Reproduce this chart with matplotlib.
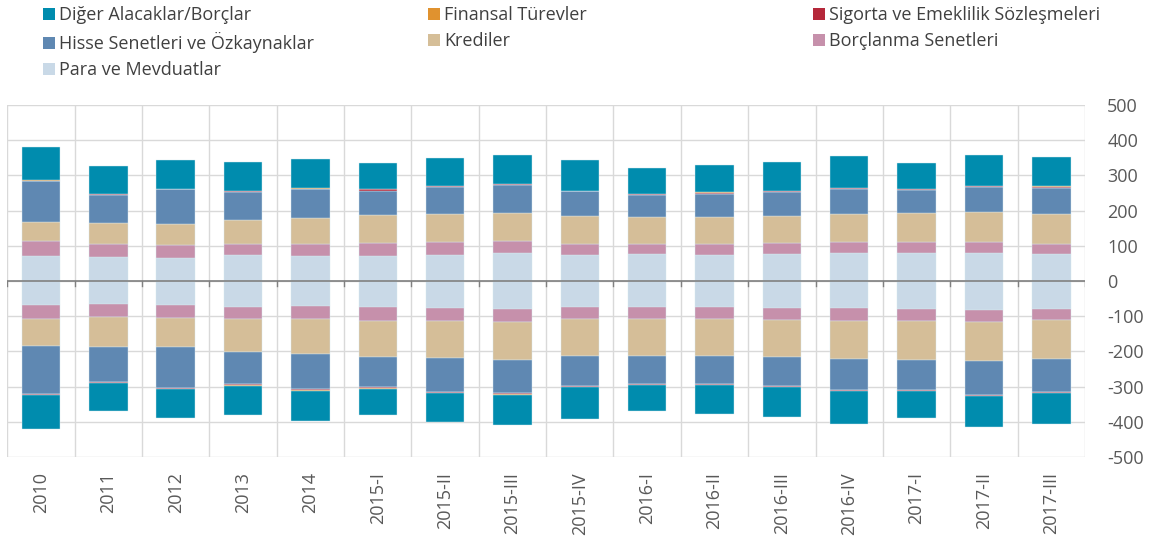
import numpy as np
import matplotlib
matplotlib.use("Agg")
import matplotlib.pyplot as plt
from matplotlib.patches import Patch
from matplotlib.ticker import FuncFormatter

plt.rcParams["font.family"] = ["Open Sans", "DejaVu Sans"]
plt.rcParams["axes.unicode_minus"] = False

periods = ["2010", "2011", "2012", "2013", "2014", "2015-I", "2015-II", "2015-III",
           "2015-IV", "2016-I", "2016-II", "2016-III", "2016-IV", "2017-I", "2017-II", "2017-III"]

# stacked from zero outwards: para, borclanma, krediler, hisse, sigorta, turev, diger
series_names = ["Para ve Mevduatlar", "Borçlanma Senetleri", "Krediler",
                "Hisse Senetleri ve Özkaynaklar", "Sigorta ve Emeklilik Sözleşmeleri",
                "Finansal Türevler", "Diğer Alacaklar/Borçlar"]
colors = ["#C9D9E7", "#C690AB", "#D5BE98", "#5F88B2", "#B5283A", "#E0922F", "#008CAE"]

# assets (positive side)
pos_para = [70, 68, 66, 73, 71, 72, 75, 80, 74, 76, 75, 76, 80, 80, 80, 78]
pos_borc = [43, 37, 36, 32, 34, 37, 35, 34, 32, 29, 30, 31, 30, 31, 30, 28]
pos_kredi = [55, 60, 61, 69, 73, 78, 79, 80, 79, 78, 78, 79, 81, 82, 85, 83]
pos_hisse = [116, 79, 97, 79, 82, 70, 78, 78, 70, 61, 65, 68, 71, 65, 72, 76]
pos_sigorta = [1.5, 2.5, 2, 2.5, 2.5, 3, 2.5, 2.5, 1.5, 2.5, 2.5, 2.5, 3, 3, 2.5, 3]
pos_turev = [0.5, 0.5, 0.5, 0.5, 0.5, 1, 0.5, 0.5, 0.5, 0.5, 1, 0.5, 0.5, 1, 0.5, 1]
pos_diger = [94, 79, 80, 82, 84, 73, 80, 84, 87, 75, 78, 82, 91, 72, 87, 82]

# liabilities (negative side)
neg_para = [68, 66, 67, 74, 72, 74, 77, 80, 74, 74, 74, 77, 78, 80, 81, 79]
neg_borc = [41, 37, 38, 35, 37, 40, 38, 36, 35, 35, 35, 34, 35, 34, 35, 33]
neg_kredi = [77, 85, 83, 94, 97, 101, 104, 108, 104, 103, 104, 105, 110, 111, 111, 109]
neg_hisse = [135, 98, 115, 90, 102, 87, 97, 95, 86, 80, 79, 82, 87, 84, 96, 95]
neg_sigorta = [3, 2.5, 2.5, 3, 3, 3, 3, 2.5, 2.5, 3, 3, 3, 3, 2.5, 3, 3]
neg_turev = [0.5, 1, 1, 1, 0.5, 0.5, 0.5, 1, 1, 0.5, 1, 0.5, 0.5, 0.5, 1, 0.5]
neg_diger = [95, 80, 82, 84, 85, 76, 82, 86, 90, 75, 81, 85, 93, 78, 89, 88]

pos = [pos_para, pos_borc, pos_kredi, pos_hisse, pos_sigorta, pos_turev, pos_diger]
neg = [neg_para, neg_borc, neg_kredi, neg_hisse, neg_sigorta, neg_turev, neg_diger]

fig = plt.figure(figsize=(11.55, 5.43), dpi=100)
ax = fig.add_axes([0.0063, 0.1584, 0.9331, 0.6482])

x = np.arange(len(periods))
width = 0.57
bottom_p = np.zeros(len(periods))
bottom_n = np.zeros(len(periods))
for vals_p, vals_n, c in zip(pos, neg, colors):
    vp = np.array(vals_p, dtype=float)
    vn = -np.array(vals_n, dtype=float)
    ax.bar(x, vp, width, bottom=bottom_p, color=c, edgecolor="#d6e8f0", linewidth=0.3, zorder=3)
    ax.bar(x, vn, width, bottom=bottom_n, color=c, edgecolor="#d6e8f0", linewidth=0.3, zorder=3)
    bottom_p += vp
    bottom_n += vn

ax.set_xlim(-0.5, len(periods) - 0.5)
ax.set_ylim(-500, 500)
ax.set_yticks(np.arange(-500, 501, 100))
ax.yaxis.set_major_formatter(FuncFormatter(lambda v, p: f"{int(v)}"))
ax.yaxis.tick_right()
ax.tick_params(axis="y", length=0, pad=16, labelsize=13, labelcolor="#595959")

ax.set_xticks(x)
ax.set_xticklabels(periods, rotation=90)
ax.tick_params(axis="x", length=0, pad=11, labelsize=13, labelcolor="#595959")

for s in ax.spines.values():
    s.set_visible(False)

# grid: horizontal every 100, vertical at category boundaries
for yv in np.arange(-500, 501, 100):
    ax.axhline(yv, color="#D9D9D9", linewidth=1, zorder=1)
for b in np.arange(-0.5, len(periods), 1):
    ax.axvline(b, color="#D9D9D9", linewidth=1, zorder=1)
    ax.plot([b, b], [0, -15], color="#808080", linewidth=1, zorder=4)
ax.axhline(0, color="#808080", linewidth=1.2, zorder=4)

# legend in three columns, placed like the original
legend_cols = [
    [6, 3, 0],
    [5, 2],
    [4, 1],
]
col_x = [0.0307, 0.364, 0.6975]
for cols, cx in zip(legend_cols, col_x):
    handles = [Patch(facecolor=colors[i], edgecolor="none") for i in cols]
    labels = [series_names[i] for i in cols]
    fig.legend(handles, labels, loc="upper left", bbox_to_anchor=(cx, 1.002),
               frameon=False, fontsize=13, handlelength=0.67, handleheight=0.67,
               handletextpad=0.25, labelspacing=0.45, labelcolor="#404040",
               borderaxespad=0)

fig.savefig("out.png", dpi=100)
